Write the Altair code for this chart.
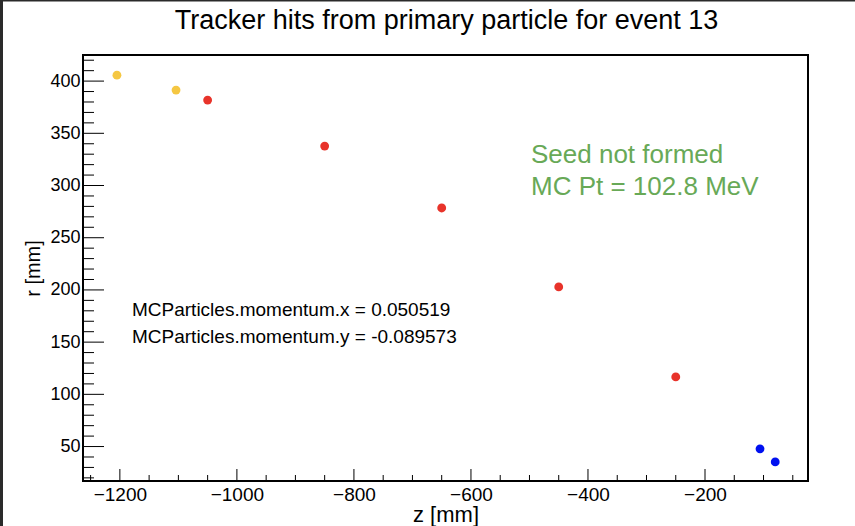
import altair as alt
import pandas as pd

# ---- data ----
z_mm = [-1205, -1104, -1050, -850, -650, -450, -250, -106, -80]
r_mm = [405.7, 391.4, 381.8, 337.8, 278.5, 202.9, 116.7, 47.8, 35.3]
hit_group = ["outer", "outer", "mid", "mid", "mid", "mid", "mid", "inner", "inner"]

x_major = [-1200, -1000, -800, -600, -400, -200]
x_minor = [-1250, -1150, -1100, -1050, -950, -900, -850, -750, -700, -650,
           -550, -500, -450, -350, -300, -250, -150, -100, -50]
y_major = [50, 100, 150, 200, 250, 300, 350, 400]
y_minor = [20, 30, 40, 60, 70, 80, 90, 110, 120, 130, 140, 160, 170, 180, 190,
           210, 220, 230, 240, 260, 270, 280, 290, 310, 320, 330, 340, 360, 370,
           380, 390, 410, 420]

title_text = "Tracker hits from primary particle for event 13"
green_lines = ["Seed not formed", "MC Pt = 102.8 MeV"]
black_lines = ["MCParticles.momentum.x = 0.050519", "MCParticles.momentum.y = -0.089573"]

W, H = 725, 426
PL, PT, PR, PB = 83, 55, 47, 45
FONT = "Liberation Sans"

hits = pd.DataFrame({"z": z_mm, "r": r_mm, "g": hit_group})
xs = alt.Scale(domain=[-1263, -24], nice=False, zero=False)
ys = alt.Scale(domain=[17, 425], nice=False, zero=False)

x_axis = alt.Axis(values=x_major, format="d", tickSize=0, domain=False, grid=False,
                  labelFontSize=19, labelFont=FONT, labelPadding=4,
                  labelColor="black", titleFont=FONT, titleFontSize=22,
                  titleFontWeight="normal", titleColor="black", titlePadding=0)
y_axis = alt.Axis(values=y_major, format="d", tickSize=0, domain=False, grid=False,
                  labelFontSize=18, labelFont=FONT, labelPadding=3,
                  labelColor="black", titleFont=FONT, titleFontSize=20,
                  titleFontWeight="normal", titleColor="black", titlePadding=6)

points = alt.Chart(hits).mark_circle(size=78, opacity=1).encode(
    x=alt.X("z:Q", scale=xs, title="z [mm]", axis=x_axis),
    y=alt.Y("r:Q", scale=ys, title="r [mm]", axis=y_axis),
    color=alt.Color("g:N", scale=alt.Scale(domain=["outer", "mid", "inner"],
                                           range=["#f5c742", "#e8332a", "#0010f0"]),
                    legend=None),
)

def xticks(vals, length):
    return alt.Chart(pd.DataFrame({"t": vals})).mark_rule(color="black", strokeWidth=1).encode(
        x=alt.X("t:Q", scale=xs, title="z [mm]", axis=x_axis),
        y=alt.value(H), y2=alt.value(H - length))

def yticks(vals, length):
    return alt.Chart(pd.DataFrame({"t": vals})).mark_rule(color="black", strokeWidth=1).encode(
        y=alt.Y("t:Q", scale=ys, title="r [mm]", axis=y_axis),
        x=alt.value(0), x2=alt.value(length))

def label(text, px, py, size, color, align="left", baseline="middle"):
    return alt.Chart(pd.DataFrame({"t": [text]})).mark_text(
        align=align, baseline=baseline, font=FONT, fontSize=size, color=color
    ).encode(text="t:N", x=alt.value(px), y=alt.value(py))

# dark screenshot edge (top and left) seen in the reference
edge_left = alt.Chart(pd.DataFrame({"k": [0]})).mark_rule(color="#2a2a2a", strokeWidth=3).encode(
    x=alt.value(-PL + 1.5), y=alt.value(-PT), y2=alt.value(H + PB))
edge_top = alt.Chart(pd.DataFrame({"k": [0]})).mark_rule(color="#2a2a2a", strokeWidth=1.5).encode(
    y=alt.value(-PT + 0.75), x=alt.value(-PL), x2=alt.value(W + PR))

chart = alt.layer(
    points,
    xticks(x_minor, 6), xticks(x_major, 12),
    yticks(y_minor, 11), yticks(y_major, 21),
    label(green_lines[0], 448, 100, 26, "#68a957"),
    label(green_lines[1], 448, 132, 26, "#68a957"),
    label(black_lines[0], 49, 255, 19, "black"),
    label(black_lines[1], 49, 282, 19, "black"),
    label(title_text, W / 2 + 1, -26, 27, "black", align="center", baseline="alphabetic"),
    edge_left, edge_top,
).properties(
    width=W, height=H,
    autosize=alt.AutoSizeParams(type="none"),
    padding={"left": PL, "top": PT, "right": PR, "bottom": PB},
    background="white",
).configure_view(stroke="black", strokeWidth=2)

chart.save("out.html", embed_options={"renderer": "svg", "actions": False})
